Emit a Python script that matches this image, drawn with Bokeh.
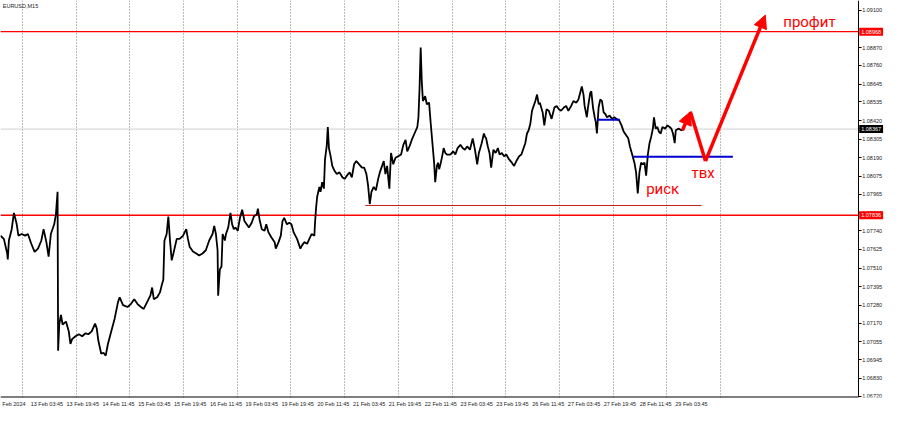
from bokeh.plotting import figure
from bokeh.models import (Range1d, FixedTicker, PrintfTickFormatter, Label,
                          Arrow, NormalHead, ColumnDataSource)
from bokeh.core.properties import value
from bokeh.embed import file_html
from bokeh.resources import INLINE

# ---------------- data (EURUSD, M15, bar index -> close) ----------------
seg_week1 = [(0, 1.07710), (6, 1.07690), (12, 1.07600), (13, 1.07564), (15, 1.07680), (20, 1.07750),
             (24, 1.07850), (29, 1.07780), (32, 1.07710), (38, 1.07720), (44, 1.07710), (49, 1.07720),
             (55, 1.07660), (61, 1.07610), (67, 1.07630), (73, 1.07680), (77, 1.07750), (82, 1.07670),
             (86, 1.07580), (90, 1.07720), (96, 1.07780), (99, 1.07840), (102, 1.07980), (103, 1.07000),
             (105, 1.07162), (108, 1.07222), (111, 1.07162), (117, 1.07180), (122, 1.07120), (125, 1.07042),
             (128, 1.07072), (134, 1.07090), (140, 1.07102), (146, 1.07090), (152, 1.07108), (157, 1.07102),
             (163, 1.07120), (169, 1.07168), (172, 1.07138), (175, 1.07060), (180, 1.06982), (184, 1.06988),
             (188, 1.06970), (192, 1.07042), (198, 1.07120), (204, 1.07198), (210, 1.07300), (213, 1.07330),
             (219, 1.07282), (227, 1.07270), (233, 1.07288), (239, 1.07318), (245, 1.07288), (251, 1.07270),
             (256, 1.07258), (262, 1.07300), (268, 1.07342), (271, 1.07390), (274, 1.07318), (280, 1.07330),
             (285, 1.07360), (288, 1.07402), (291, 1.07438), (293, 1.07678), (297, 1.07720), (300, 1.07828),
             (303, 1.07678), (306, 1.07558), (309, 1.07600), (315, 1.07690), (320, 1.07690), (326, 1.07708),
             (332, 1.07750), (335, 1.07690), (338, 1.07642), (344, 1.07612), (350, 1.07600), (355, 1.07588),
             (361, 1.07600)]
seg_week2 = [(367, 1.07620), (373, 1.07680), (379, 1.07720), (382, 1.07770), (385, 1.07720), (388, 1.07620),
             (389, 1.07340), (392, 1.07500), (395, 1.07520), (397, 1.07720), (401, 1.07680), (403, 1.07720),
             (407, 1.07760), (411, 1.07850), (414, 1.07780), (417, 1.07750), (420, 1.07760), (424, 1.07740),
             (428, 1.07820), (432, 1.07870), (436, 1.07800), (440, 1.07780), (444, 1.07760), (449, 1.07790),
             (453, 1.07830), (458, 1.07840), (460, 1.07876), (463, 1.07810), (467, 1.07750), (472, 1.07740),
             (475, 1.07780), (479, 1.07730), (484, 1.07700), (490, 1.07670), (492, 1.07630), (497, 1.07670),
             (501, 1.07710), (504, 1.07800), (507, 1.07820), (512, 1.07780), (516, 1.07790), (520, 1.07780),
             (524, 1.07730), (530, 1.07690), (536, 1.07630), (539, 1.07650), (543, 1.07670), (548, 1.07660),
             (552, 1.07690), (556, 1.07720), (561, 1.07710)]
seg_week2b = [(562, 1.07780), (564, 1.07880), (566, 1.07950), (570, 1.08010), (572, 1.07980), (575, 1.08040),
              (578, 1.08000), (580, 1.08180), (583, 1.08260), (585, 1.08380), (587, 1.08250), (590, 1.08200),
              (593, 1.08140), (597, 1.08110), (601, 1.08090), (606, 1.08100), (611, 1.08070), (615, 1.08060),
              (619, 1.08080), (624, 1.08100), (628, 1.08070), (632, 1.08150), (636, 1.08170), (641, 1.08150),
              (646, 1.08130), (650, 1.08130), (654, 1.08090), (657, 1.08020), (660, 1.07905), (663, 1.07980),
              (667, 1.08010), (671, 1.07990), (675, 1.08060), (678, 1.08100), (682, 1.08140), (685, 1.08170),
              (688, 1.08090), (691, 1.08140), (695, 1.08000), (698, 1.08220), (702, 1.08150), (706, 1.08190),
              (711, 1.08200), (716, 1.08210), (720, 1.08270), (724, 1.08300), (727, 1.08230), (731, 1.08260),
              (735, 1.08300), (740, 1.08340), (745, 1.08380), (747, 1.08440), (749, 1.08620), (751, 1.08870),
              (753, 1.08660), (755, 1.08540), (759, 1.08570), (762, 1.08520), (766, 1.08530)]
seg_week3 = [(769, 1.08400), (772, 1.08280), (775, 1.08160), (777, 1.08040), (780, 1.08140), (782, 1.08160),
             (784, 1.08120), (787, 1.08160), (790, 1.08210), (792, 1.08250), (795, 1.08220), (798, 1.08210),
             (804, 1.08210), (809, 1.08230), (813, 1.08210), (817, 1.08250), (822, 1.08270), (826, 1.08250),
             (830, 1.08240), (834, 1.08260), (839, 1.08240), (844, 1.08310), (848, 1.08240), (852, 1.08150),
             (855, 1.08220), (860, 1.08280), (864, 1.08340), (866, 1.08320), (868, 1.08310), (871, 1.08260),
             (874, 1.08220), (877, 1.08130), (881, 1.08240), (885, 1.08220), (889, 1.08250), (892, 1.08210),
             (896, 1.08220), (900, 1.08200), (904, 1.08210), (909, 1.08180), (914, 1.08160), (918, 1.08140),
             (922, 1.08170), (927, 1.08200), (931, 1.08210), (935, 1.08250), (938, 1.08280), (941, 1.08340),
             (944, 1.08360), (947, 1.08400), (950, 1.08480), (953, 1.08510), (956, 1.08540), (959, 1.08580),
             (962, 1.08520), (964, 1.08530), (969, 1.08470), (972, 1.08390), (976, 1.08490), (980, 1.08480),
             (985, 1.08430), (990, 1.08500), (994, 1.08510), (998, 1.08490), (1002, 1.08480), (1007, 1.08500),
             (1011, 1.08510), (1015, 1.08480), (1020, 1.08510), (1024, 1.08540), (1029, 1.08530), (1033, 1.08550),
             (1036, 1.08590), (1039, 1.08630), (1042, 1.08580), (1044, 1.08510), (1048, 1.08440), (1050, 1.08500),
             (1054, 1.08590), (1056, 1.08600), (1059, 1.08500), (1062, 1.08440), (1064, 1.08410), (1066, 1.08340),
             (1069, 1.08500), (1072, 1.08550), (1075, 1.08540), (1078, 1.08470), (1081, 1.08460), (1084, 1.08440),
             (1089, 1.08450), (1093, 1.08430), (1097, 1.08440), (1101, 1.08430), (1106, 1.08420), (1110, 1.08390),
             (1114, 1.08350), (1118, 1.08330), (1122, 1.08310), (1125, 1.08260), (1129, 1.08210), (1133, 1.08160),
             (1136, 1.08100), (1139, 1.07970), (1142, 1.08100), (1145, 1.08160), (1148, 1.08150), (1151, 1.08160),
             (1154, 1.08080), (1157, 1.08210), (1160, 1.08280), (1163, 1.08320), (1166, 1.08370), (1168, 1.08440),
             (1171, 1.08370), (1174, 1.08380), (1177, 1.08350), (1180, 1.08340), (1183, 1.08380), (1188, 1.08370),
             (1192, 1.08390), (1196, 1.08380), (1199, 1.08370), (1202, 1.08340), (1205, 1.08280), (1207, 1.08360),
             (1212, 1.08370), (1217, 1.08360), (1221, 1.08367)]

# price levels
level_top = 1.08968
level_bottom = 1.07836
last_price = 1.08367
risk_level = (652, 1253, 1.07896)
entry_level = (1131, 1309, 1.08196)
small_level = (1066, 1107, 1.08424)

# arrow path (bar, price)
arrow_bars = [1219, 1233, 1260, 1367]
arrow_prices = [1.08360, 1.08474, 1.08170, 1.09070]

annot_text = ["риск", "твх", "профит"]
annot_bars = [1154, 1235, 1399]
annot_prices = [1.07996, 1.08098, 1.09025]

# axes
price_ticks = [1.09100, 1.08870, 1.08760, 1.08645, 1.08535, 1.08420, 1.08305, 1.08190, 1.08075,
               1.07965, 1.07850, 1.07740, 1.07625, 1.07510, 1.07395, 1.07280, 1.07170, 1.07055,
               1.06945, 1.06830, 1.06720]
time_tick_bars = [-5, 54, 118, 182, 246, 310, 374, 438, 502, 566, 630, 694, 758, 822, 886, 950,
                  1014, 1078, 1142, 1206]
time_labels = ["Feb 2024", "13 Feb 03:45", "13 Feb 19:45", "14 Feb 11:45", "15 Feb 03:45",
               "15 Feb 19:45", "16 Feb 11:45", "19 Feb 03:45", "19 Feb 19:45", "20 Feb 11:45",
               "21 Feb 03:45", "21 Feb 19:45", "22 Feb 11:45", "23 Feb 03:45", "23 Feb 19:45",
               "26 Feb 11:45", "27 Feb 03:45", "27 Feb 19:45", "28 Feb 11:45", "29 Feb 03:45"]
day_start_bars = [39, 135, 231, 327, 423, 519, 615, 711, 807, 903, 999, 1095, 1191, 1287]

# ---------------- layout constants ----------------
RED = "#ff0000"
BLUE = "#0000d0"
AXFONT = "Liberation Sans"
AXSIZE = "5.5px"
X_END = 1580          # visible bars incl. price-scale column
PRICE_AXIS_AT = 1533  # where MT4 draws its price scale
Y_LO, Y_HI = 1.06712, 1.0916
LABEL_SHIFT = 29      # MT4 writes time labels to the right of their tick

p = figure(width=884, height=409, x_range=Range1d(0, X_END), y_range=Range1d(Y_LO, Y_HI),
           output_backend="svg", toolbar_location=None, y_axis_location="right",
           min_border_left=0, min_border_top=0, min_border_bottom=0, min_border_right=0)
p.outline_line_color = None
p.background_fill_color = "white"

p.ygrid.grid_line_color = None
p.xgrid.ticker = FixedTicker(ticks=day_start_bars)
p.xgrid.grid_line_color = "#7a7a7a"
p.xgrid.grid_line_dash = "1 2"
p.xgrid.grid_line_width = 1

ya = p.yaxis[0]
ya.fixed_location = PRICE_AXIS_AT
ya.ticker = FixedTicker(ticks=price_ticks)
ya.formatter = PrintfTickFormatter(format="%.5f")
ya.axis_line_color = "black"
ya.major_tick_out = 3
ya.major_tick_in = 0
ya.minor_tick_line_color = None
ya.major_label_text_font = AXFONT
ya.major_label_text_font_size = AXSIZE
ya.major_label_text_color = "#222222"
ya.major_label_standoff = 1

xa = p.xaxis[0]
label_pos = [b + LABEL_SHIFT for b in time_tick_bars]
xa.ticker = FixedTicker(ticks=label_pos)
xa.major_label_overrides = {b: t for b, t in zip(label_pos, time_labels)}
xa.axis_line_color = None
xa.major_tick_line_color = None
xa.major_tick_out = 0
xa.minor_tick_line_color = None
xa.major_label_text_font = AXFONT
xa.major_label_text_font_size = AXSIZE
xa.major_label_text_color = "#222222"
xa.major_label_standoff = 3

# bottom frame line up to the price scale
p.segment(x0=[0], y0=[Y_LO], x1=[PRICE_AXIS_AT], y1=[Y_LO], line_color="black", line_width=2)

# current price line and horizontal levels
p.segment(x0=[0], y0=[last_price], x1=[PRICE_AXIS_AT], y1=[last_price], line_color="#d0d0d0", line_width=1)
p.segment(x0=[0, 0], y0=[level_top, level_bottom], x1=[PRICE_AXIS_AT, PRICE_AXIS_AT],
          y1=[level_top, level_bottom], line_color=RED, line_width=1.4)

# price trace
all_pts = seg_week1 + seg_week2 + seg_week2b + seg_week3
src = ColumnDataSource(dict(bar=[b for b, _ in all_pts], close=[c for _, c in all_pts]))
p.line("bar", "close", source=src, line_color="black", line_width=1.8)

# drawn levels
p.segment(x0=[risk_level[0]], y0=[risk_level[2]], x1=[risk_level[1]], y1=[risk_level[2]],
          line_color="#c02020", line_width=1)
p.segment(x0=[entry_level[0], small_level[0]], y0=[entry_level[2], small_level[2]],
          x1=[entry_level[1], small_level[1]], y1=[entry_level[2], small_level[2]],
          line_color=BLUE, line_width=2)

# red arrow path
p.add_layout(Arrow(x_start=arrow_bars[0], y_start=arrow_prices[0], x_end=arrow_bars[1], y_end=arrow_prices[1],
                   line_color=RED, line_width=3.5,
                   end=NormalHead(size=13, fill_color=RED, line_color=RED)))
p.line(arrow_bars[1:3], arrow_prices[1:3], line_color=RED, line_width=3.5, line_join="miter")
p.add_layout(Arrow(x_start=arrow_bars[2], y_start=arrow_prices[2], x_end=arrow_bars[3], y_end=arrow_prices[3],
                   line_color=RED, line_width=3.5,
                   end=NormalHead(size=13, fill_color=RED, line_color=RED)))

p.text(x=annot_bars, y=annot_prices, text=annot_text, text_color=RED,
       text_font=value("Roboto"), text_font_size="15px", text_baseline="middle", text_align="left")

p.add_layout(Label(x=4, y=Y_HI, y_offset=-2, text="EURUSD,M15", text_font=AXFONT, text_font_size=AXSIZE,
                   text_color="#222222", text_baseline="top", text_align="left"))

# price boxes on the price scale
for lvl, bg in ((level_top, RED), (level_bottom, RED), (last_price, "black")):
    p.add_layout(Label(x=PRICE_AXIS_AT, y=lvl, x_offset=1, text="%.5f" % lvl, text_font=AXFONT,
                       text_font_size=AXSIZE, text_color="white", text_baseline="middle",
                       text_align="left", background_fill_color=bg, padding=2))

open("out.html", "w").write(file_html(p, INLINE))
